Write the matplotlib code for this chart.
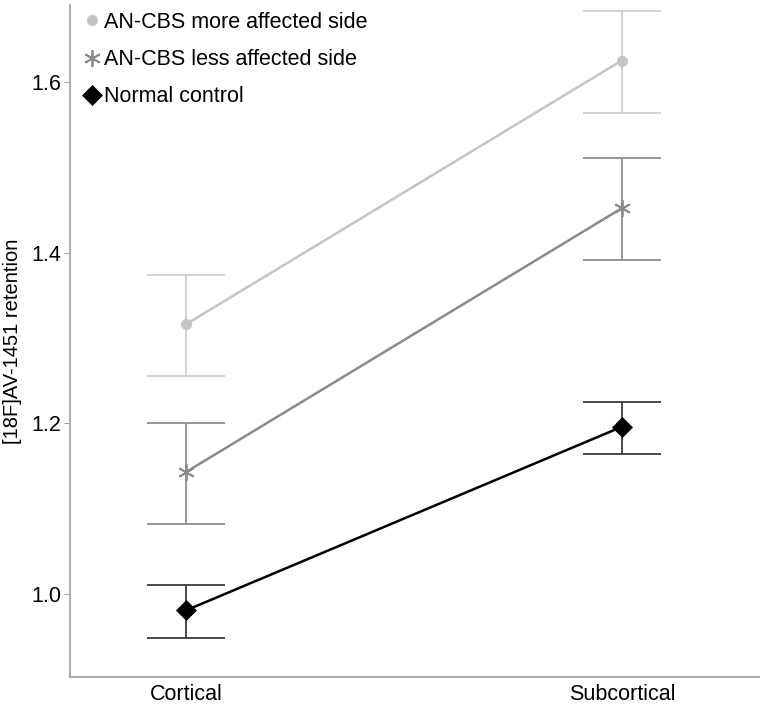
import matplotlib
matplotlib.use("Agg")
import matplotlib.pyplot as plt
from matplotlib.lines import Line2D

plt.rcParams['font.family'] = ['Liberation Sans', 'DejaVu Sans']

regions = ["Cortical", "Subcortical"]
series_names = ["AN-CBS more affected side", "AN-CBS less affected side", "Normal control"]
means = [
    [1.316, 1.625],
    [1.143, 1.452],
    [0.981, 1.196],
]
err_low = [
    [1.255, 1.564],
    [1.082, 1.391],
    [0.949, 1.164],
]
err_high = [
    [1.374, 1.683],
    [1.201, 1.511],
    [1.011, 1.225],
]
yticks = [1.0, 1.2, 1.4, 1.6]

line_colors = ["#c4c4c4", "#8a8a8a", "#000000"]
err_colors = ["#cfcfcf", "#8f8f8f", "#3a3a3a"]
markers = ["o", (6, 2, 0), "D"]
msizes = [7.5, 12, 10]

fig = plt.figure(figsize=(7.6, 7.06), dpi=100)
ax = fig.add_axes([70/760, 29/706, 690/760, 672/706])

x = list(range(len(regions)))
handles = []
for i in range(3):
    lo = [m - l for m, l in zip(means[i], err_low[i])]
    hi = [h - m for m, h in zip(means[i], err_high[i])]
    ax.errorbar(x, means[i], yerr=[lo, hi], fmt='none', ecolor=err_colors[i],
                elinewidth=1.3, capsize=28, capthick=1.3, zorder=2)
    ax.plot(x, means[i], color=line_colors[i], lw=1.8, zorder=3)
    mk = dict(marker=markers[i], markersize=msizes[i], color=line_colors[i],
              markeredgecolor=line_colors[i], markeredgewidth=1.3 if i == 1 else 0.5)
    ax.plot(x, means[i], linestyle='none', zorder=4, **mk)
    handles.append(Line2D([], [], linestyle='none', **mk))

ax.set_xlim(-0.266, 1.317)
ax.set_ylim(0.903, 1.69)
ax.set_xticks(x)
ax.set_xticklabels(regions)
ax.set_yticks(yticks)
ax.set_yticklabels([f"{t:.1f}" for t in yticks])
ax.set_ylabel("[18F]AV-1451 retention", fontsize=14.5, labelpad=7)

for s in ["top", "right"]:
    ax.spines[s].set_visible(False)
for s in ["left", "bottom"]:
    ax.spines[s].set_color("#a0a0a0")
    ax.spines[s].set_linewidth(1.2)
ax.tick_params(axis='y', length=4, color="#a0a0a0", labelsize=15.5, pad=2)
ax.tick_params(axis='x', length=0, labelsize=15.5, pad=5)

ax.legend(handles, series_names, loc="upper left", bbox_to_anchor=(-0.002, 1.012),
          frameon=False, fontsize=15.5, handlelength=0.8, handletextpad=0.15,
          labelspacing=0.75, borderaxespad=0.3)

fig.savefig("out.png", dpi=100)
